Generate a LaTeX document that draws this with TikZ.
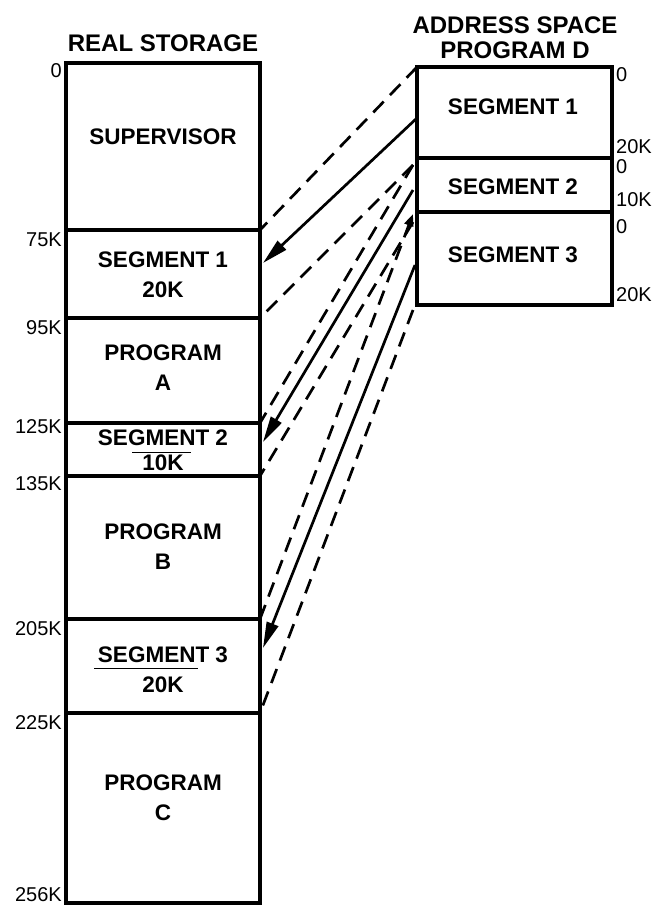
\documentclass[tikz,border=0pt]{standalone}
\usepackage{fontspec}
\setmainfont{Liberation Sans}
\usetikzlibrary{arrows.meta}
\begin{document}
\begin{tikzpicture}[x=1pt,y=-1pt,
  lreg/.style={draw, line width=3.8pt, minimum width=194pt, inner sep=0pt, outer sep=0pt},
  rreg/.style={draw, line width=3.8pt, minimum width=195pt, inner sep=0pt, outer sep=0pt},
  bt/.style={font=\fontsize{22.5pt}{30pt}\bfseries\selectfont, align=center, inner sep=0pt},
  ttl/.style={font=\fontsize{24pt}{25pt}\bfseries\selectfont, align=center, inner sep=0pt},
  lab/.style={font=\fontsize{20pt}{22pt}\selectfont, inner sep=0pt},
  conn/.style={line width=2.7pt},
  dsh/.style={conn, dash pattern=on 15pt off 9pt},
  arr/.style={conn, -{Triangle[length=26pt,width=12pt]}},
  uline/.style={line width=1pt}
]
\useasboundingbox (0,0) rectangle (666,905);

% real storage regions
\node[lreg, minimum height=167pt] (sup) at (163,146.5) {};
\node[lreg, minimum height=88pt]  (ls1) at (163,274) {};
\node[lreg, minimum height=105pt] (pa)  at (163,370.5) {};
\node[lreg, minimum height=53pt]  (ls2) at (163,449.5) {};
\node[lreg, minimum height=143pt] (pb)  at (163,547.5) {};
\node[lreg, minimum height=94pt]  (ls3) at (163,666) {};
\node[lreg, minimum height=190pt] (pc)  at (163,808) {};

% address space regions
\node[rreg, minimum height=91pt] (rs1) at (514.5,112.5) {};
\node[rreg, minimum height=54pt] (rs2) at (514.5,185) {};
\node[rreg, minimum height=93pt] (rs3) at (514.5,258.5) {};

% titles
\node[ttl] (treal) at (163,43) {REAL STORAGE};
\node[ttl] (taddr) at (515,37.5) {ADDRESS SPACE\\PROGRAM D};

% texts in real storage
\node[bt] (tsup) at (163,137) {SUPERVISOR};
\node[bt] (tls1) at (163,275) {SEGMENT 1\\20K};
\node[bt] (tpa)  at (163,368) {PROGRAM\\A};
\node[bt] (tls2) at (163,450.5) {SEGMENT 2\\[-5pt]10K};
\node[bt] (tpb)  at (163,547) {PROGRAM\\B};
\node[bt] (tls3) at (163,670) {SEGMENT 3\\20K};
\node[bt] (tpc)  at (163,798) {PROGRAM\\C};

% texts in address space
\node[bt] (trs1) at (513,107) {SEGMENT 1};
\node[bt] (trs2) at (513,187) {SEGMENT 2};
\node[bt] (trs3) at (513,255) {SEGMENT 3};

% left address labels
\node[lab, anchor=east] (a0)   at (62,71)  {0};
\node[lab, anchor=east] (a75)  at (62,240) {75K};
\node[lab, anchor=east] (a95)  at (62,328) {95K};
\node[lab, anchor=east] (a125) at (62,427) {125K};
\node[lab, anchor=east] (a135) at (62,484) {135K};
\node[lab, anchor=east] (a205) at (62,629) {205K};
\node[lab, anchor=east] (a225) at (62,723) {225K};
\node[lab, anchor=east] (a256) at (62,895) {256K};

% right address labels
\node[lab, anchor=west] (b0a)  at (616,75)  {0};
\node[lab, anchor=west] (b20a) at (616,147) {20K};
\node[lab, anchor=west] (b0b)  at (616,167) {0};
\node[lab, anchor=west] (b10)  at (616,200) {10K};
\node[lab, anchor=west] (b0c)  at (616,227) {0};
\node[lab, anchor=west] (b20b) at (616,295) {20K};

% underline marks
\draw[uline] (132,452) -- (191,452);
\draw[uline] (94,668) -- (198,668);

% segment 1 mapping
\draw[dsh] (rs1.north west) -- (ls1.north east);
\draw[arr] ([yshift=-5.5pt]rs1.west) -- ([xshift=3pt,yshift=11pt]ls1.east);
\draw[dsh] ([xshift=-4pt,yshift=-7pt]rs1.south west) -- (ls1.south east);

% segment 2 mapping
\draw[dsh] ([xshift=-4pt,yshift=-7pt]rs1.south west) -- (ls2.north east);
\draw[arr] ([xshift=-4pt,yshift=-5pt]rs2.west) -- ([xshift=3pt,yshift=7.5pt]ls2.east);
\draw[dsh] ([xshift=-4pt,yshift=-10pt]rs2.south west) -- (ls2.south east);

% segment 3 mapping
\draw[dsh, -{Triangle[length=12pt,width=9pt]}] (ls3.north east) -- ([xshift=-4pt,yshift=-2pt]rs3.north west);
\draw[arr] ([xshift=-2pt,yshift=-6.5pt]rs3.west) -- ([xshift=3pt,yshift=18pt]ls3.east);
\draw[dsh] ([xshift=-4pt,yshift=-5pt]rs3.south west) -- (ls3.south east);
\end{tikzpicture}
\end{document}
